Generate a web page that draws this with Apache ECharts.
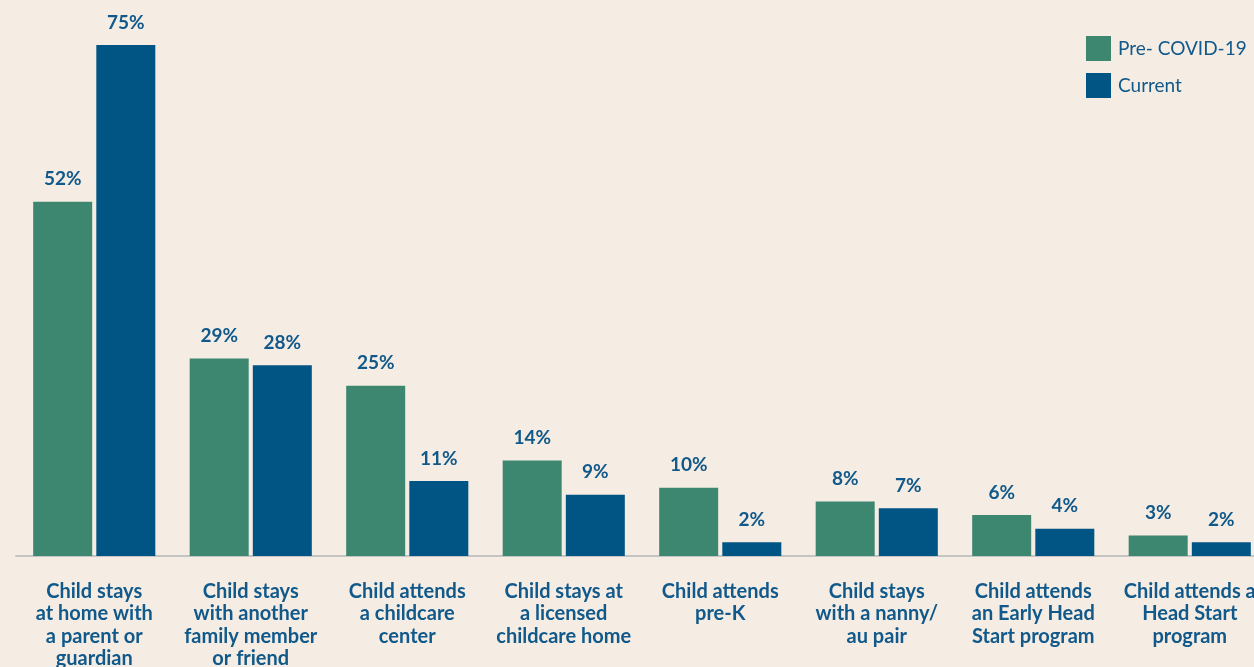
<!DOCTYPE html>
<html lang="en">
<head>
    <meta charset="UTF-8">
    <title>Childcare arrangements</title>
    <style>
        html, body { margin: 0; padding: 0; background: #f5ece3; }
        #main { width: 1254px; height: 667px; }
    </style>
</head>
<body>
<div id="main"></div>
<script src="https://cdn.jsdelivr.net/npm/echarts@6/dist/echarts.min.js"></script>
<script type="text/javascript">
    var categories = [
        'Child stays\nat home with\na parent or\nguardian',
        'Child stays\nwith another\nfamily member\nor friend',
        'Child attends\na childcare\ncenter',
        'Child stays at\na licensed\nchildcare home',
        'Child attends\npre-K',
        'Child stays\nwith a nanny/\nau pair',
        'Child attends\nan Early Head\nStart program',
        'Child attends a\nHead Start\nprogram'
    ];
    var preCovid = [52, 29, 25, 14, 10, 8, 6, 3];
    var current = [75, 28, 11, 9, 2, 7, 4, 2];

    var textBlue = '#10598a';
    var fontName = 'Lato, "Open Sans", sans-serif';

    var myChart = echarts.init(document.getElementById('main'));
    var labelStyle = {
        show: true,
        position: 'top',
        distance: 13,
        formatter: '{c}%',
        color: textBlue,
        fontFamily: fontName,
        fontWeight: 'bold',
        fontSize: 19
    };
    var option = {
        backgroundColor: '#f5ece3',
        animation: false,
        legend: {
            orient: 'vertical',
            left: 1081,
            top: 31,
            itemWidth: 25,
            itemHeight: 25,
            itemGap: 12,
            icon: 'rect',
            textStyle: {
                color: textBlue,
                fontFamily: fontName,
                fontSize: 19,
                padding: [0, 0, 0, 2]
            },
            data: ['Pre- COVID-19', 'Current']
        },
        grid: {
            left: 16,
            top: 45,
            width: 1252,
            bottom: 111,
            containLabel: false,
            outerBoundsMode: 'none'
        },
        xAxis: {
            type: 'category',
            data: categories,
            axisLine: { show: true, lineStyle: { color: '#c4c4c4', width: 2 } },
            axisTick: { show: false },
            axisLabel: {
                interval: 0,
                margin: 24,
                color: textBlue,
                fontFamily: fontName,
                fontWeight: 'bold',
                fontSize: 20,
                lineHeight: 22.5,
                align: 'center'
            }
        },
        yAxis: {
            type: 'value',
            min: 0,
            max: 75,
            show: false,
            splitLine: { show: false }
        },
        series: [
            {
                name: 'Pre- COVID-19',
                type: 'bar',
                barWidth: 59,
                barGap: '7%',
                itemStyle: { color: '#3d8670' },
                label: labelStyle,
                data: preCovid
            },
            {
                name: 'Current',
                type: 'bar',
                barWidth: 59,
                barGap: '7%',
                itemStyle: { color: '#005584' },
                label: labelStyle,
                data: current
            }
        ]
    };
    myChart.setOption(option);
</script>
</body>
</html>
